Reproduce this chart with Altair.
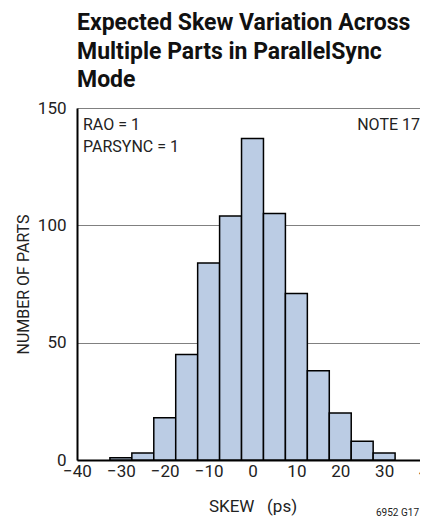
import altair as alt
import pandas as pd

# Data
bin_centers = [-30, -25, -20, -15, -10, -5, 0, 5, 10, 15, 20, 25, 30]
counts = [1, 3, 18, 45, 84, 104, 137, 105, 71, 38, 20, 8, 3]
bin_width = 5
x_ticks = [-40, -30, -20, -10, 0, 10, 20, 30, 40]
y_ticks = [0, 50, 100, 150]

title_lines = ["Expected Skew Variation Across", "Multiple Parts in ParallelSync", "Mode"]
note_line1 = "RAO = 1"
note_line2 = "PARSYNC = 1"
note_right = "NOTE 17"
figure_id = "6952 G17"

FONT = "Roboto, Liberation Sans, Arial, sans-serif"
TXT = "#222222"

df = pd.DataFrame({
    "x0": [c - bin_width / 2 for c in bin_centers],
    "x1": [c + bin_width / 2 for c in bin_centers],
    "count": counts,
})

W, H = 351, 352

xscale = alt.Scale(domain=[-40, 40], nice=False, zero=False)
yscale = alt.Scale(domain=[0, 150], nice=False)

bars = alt.Chart(df).mark_bar(
    fill="#bbcce4", stroke="#000000", strokeWidth=1.5
).encode(
    x=alt.X("x0:Q", scale=xscale,
            axis=alt.Axis(values=x_ticks, title="SKEW\u00a0\u00a0\u00a0(ps)", grid=False,
                          ticks=False, labelPadding=3, labelFontSize=17, labelFont=FONT,
                          labelColor=TXT, titleFont=FONT, titleFontSize=17,
                          titleFontWeight="normal", titleColor=TXT,
                          titleBaseline="alphabetic", titleY=51.5, titleX=W / 2,
                          domainColor="#000000", domainWidth=2, labelFlush=False)),
    x2="x1:Q",
    y=alt.Y("count:Q", scale=yscale,
            axis=alt.Axis(values=y_ticks, title="NUMBER OF PARTS", grid=True,
                          gridColor="#808080", gridWidth=1,
                          ticks=False, labelPadding=11, labelFontSize=17, labelFont=FONT,
                          labelColor=TXT, titleFont=FONT, titleFontSize=16,
                          titleFontWeight="normal", titleColor=TXT,
                          titleAngle=270, titleAlign="center", titleBaseline="alphabetic",
                          titleX=-49, titleY=H / 2,
                          domainColor="#000000", domainWidth=2, labelFlush=False)),
    y2=alt.datum(0),
)

def label(text, x, y, align="left", size=16):
    return alt.Chart(pd.DataFrame({"t": [text]})).mark_text(
        align=align, baseline="alphabetic", font=FONT, fontSize=size, color=TXT
    ).encode(text="t:N", x=alt.value(x), y=alt.value(y))

chart = alt.layer(
    bars,
    label(note_line1, 6, 22),
    label(note_line2, 6, 44),
    label(note_right, W - 8, 22, align="right"),
    label(figure_id, W - 9, 408, align="right", size=10),
).properties(
    width=W, height=H,
    title=alt.TitleParams(text=title_lines, anchor="start", frame="group",
                          font=FONT, fontSize=23, fontWeight="bold", color="#111111",
                          lineHeight=28.3, offset=7),
    autosize=alt.AutoSizeParams(type="none"),
    padding={"left": 69, "top": 100, "right": -8, "bottom": 58},
).configure_view(
    stroke="#555555", strokeWidth=1
).configure(background="white")

chart.save("out.html", embed_options={"renderer": "svg", "actions": False})
